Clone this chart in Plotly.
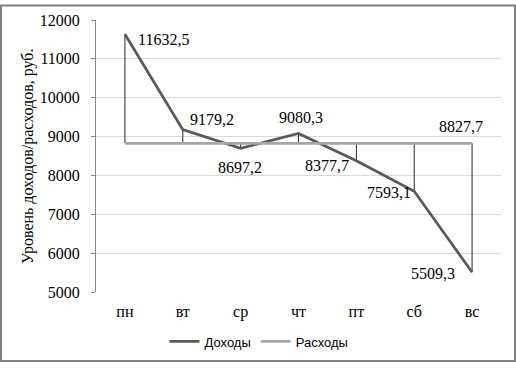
import plotly.graph_objects as go

days = ["пн", "вт", "ср", "чт", "пт", "сб", "вс"]
income = [11632.5, 9179.2, 8697.2, 9080.3, 8377.7, 7593.1, 5509.3]
expense = [8827.7, 8827.7, 8827.7, 8827.7, 8827.7, 8827.7, 8827.7]
y_ticks = [5000, 6000, 7000, 8000, 9000, 10000, 11000, 12000]

W, H = 516, 368
L, R, T, B = 96, 15, 16, 72
PW, PH = W - L - R, H - T - B

SERIF = "Liberation Serif"
SANS = "Liberation Sans"

def fmt(v):
    return f"{v:.1f}".replace(".", ",")

fig = go.Figure()

# high-low drop lines
dx, dy = [], []
for d, a, b in zip(days, income, expense):
    dx += [d, d, None]
    dy += [a, b, None]
fig.add_trace(go.Scatter(x=dx, y=dy, mode="lines", line=dict(color="#262626", width=1),
                         showlegend=False, hoverinfo="skip"))

fig.add_trace(go.Scatter(x=days, y=income, mode="lines", name="Доходы",
                         line=dict(color="#595959", width=2.75)))
fig.add_trace(go.Scatter(x=days, y=expense, mode="lines", name="Расходы",
                         line=dict(color="#a6a6a6", width=2.75)))

# label offsets (px): x shift, y shift (up positive)
inc_off = [(39, -5), (29, 10), (-1, -19), (2, 16), (-29, -5), (-25, -1), (-39, -1)]
anns = []
for d, v, (sx, sy) in zip(days, income, inc_off):
    anns.append(dict(x=d, y=v, xref="x", yref="y", text=fmt(v), showarrow=False,
                     xanchor="center", yanchor="middle",
                     xshift=sx, yshift=sy, font=dict(family=SERIF, size=16, color="#000000")))
anns.append(dict(x=days[-1], y=expense[-1], xref="x", yref="y", text=fmt(expense[-1]),
                 showarrow=False, xanchor="center", yanchor="middle", xshift=-11, yshift=17,
                 font=dict(family=SERIF, size=16, color="#000000")))
anns.append(dict(x=(28 - L) / PW, y=0.5, xref="paper", yref="paper",
                 xanchor="center", yanchor="middle",
                 text="Уровень доходов/расходов, руб.", textangle=-90, showarrow=False,
                 font=dict(family=SERIF, size=16, color="#000000")))

fig.update_layout(
    width=W, height=H,
    margin=dict(l=L, r=R, t=T, b=B, pad=0),
    paper_bgcolor="white", plot_bgcolor="white",
    font=dict(family=SERIF, size=16, color="#000000"),
    annotations=anns,
    showlegend=True,
    legend=dict(orientation="h", x=(259 - L) / PW, xanchor="center",
                y=(T + PH - 347) / PH, yanchor="middle",
                font=dict(family=SANS, size=13, color="#000000"),
                itemwidth=30, tracegroupgap=0),
    shapes=[dict(type="rect", xref="paper", yref="paper",
                 x0=(1 - L) / PW, x1=(W - 1 - L) / PW,
                 y0=(T + PH - (H - 1)) / PH, y1=(T + PH - 1) / PH,
                 line=dict(color="#808080", width=2), fillcolor="rgba(0,0,0,0)",
                 layer="above")],
)

fig.update_xaxes(type="category", categoryorder="array", categoryarray=days,
                 range=[-0.5, 6.5], showgrid=False, zeroline=False, showline=False,
                 ticks="", tickfont=dict(family=SERIF, size=16, color="#000000"),
                 ticklabelstandoff=8)
fig.update_yaxes(range=[5000, 12000], tickvals=y_ticks, ticktext=[str(v) for v in y_ticks],
                 showgrid=True, gridcolor="#d9d9d9", gridwidth=1, zeroline=False,
                 showline=True, linecolor="#868686", linewidth=1,
                 ticks="outside", ticklen=4, tickcolor="#868686",
                 tickfont=dict(family=SERIF, size=16, color="#000000"),
                 ticklabelstandoff=8)

fig.write_html("out.html", config={"displayModeBar": False},
               post_script="document.body.style.margin='0';")
